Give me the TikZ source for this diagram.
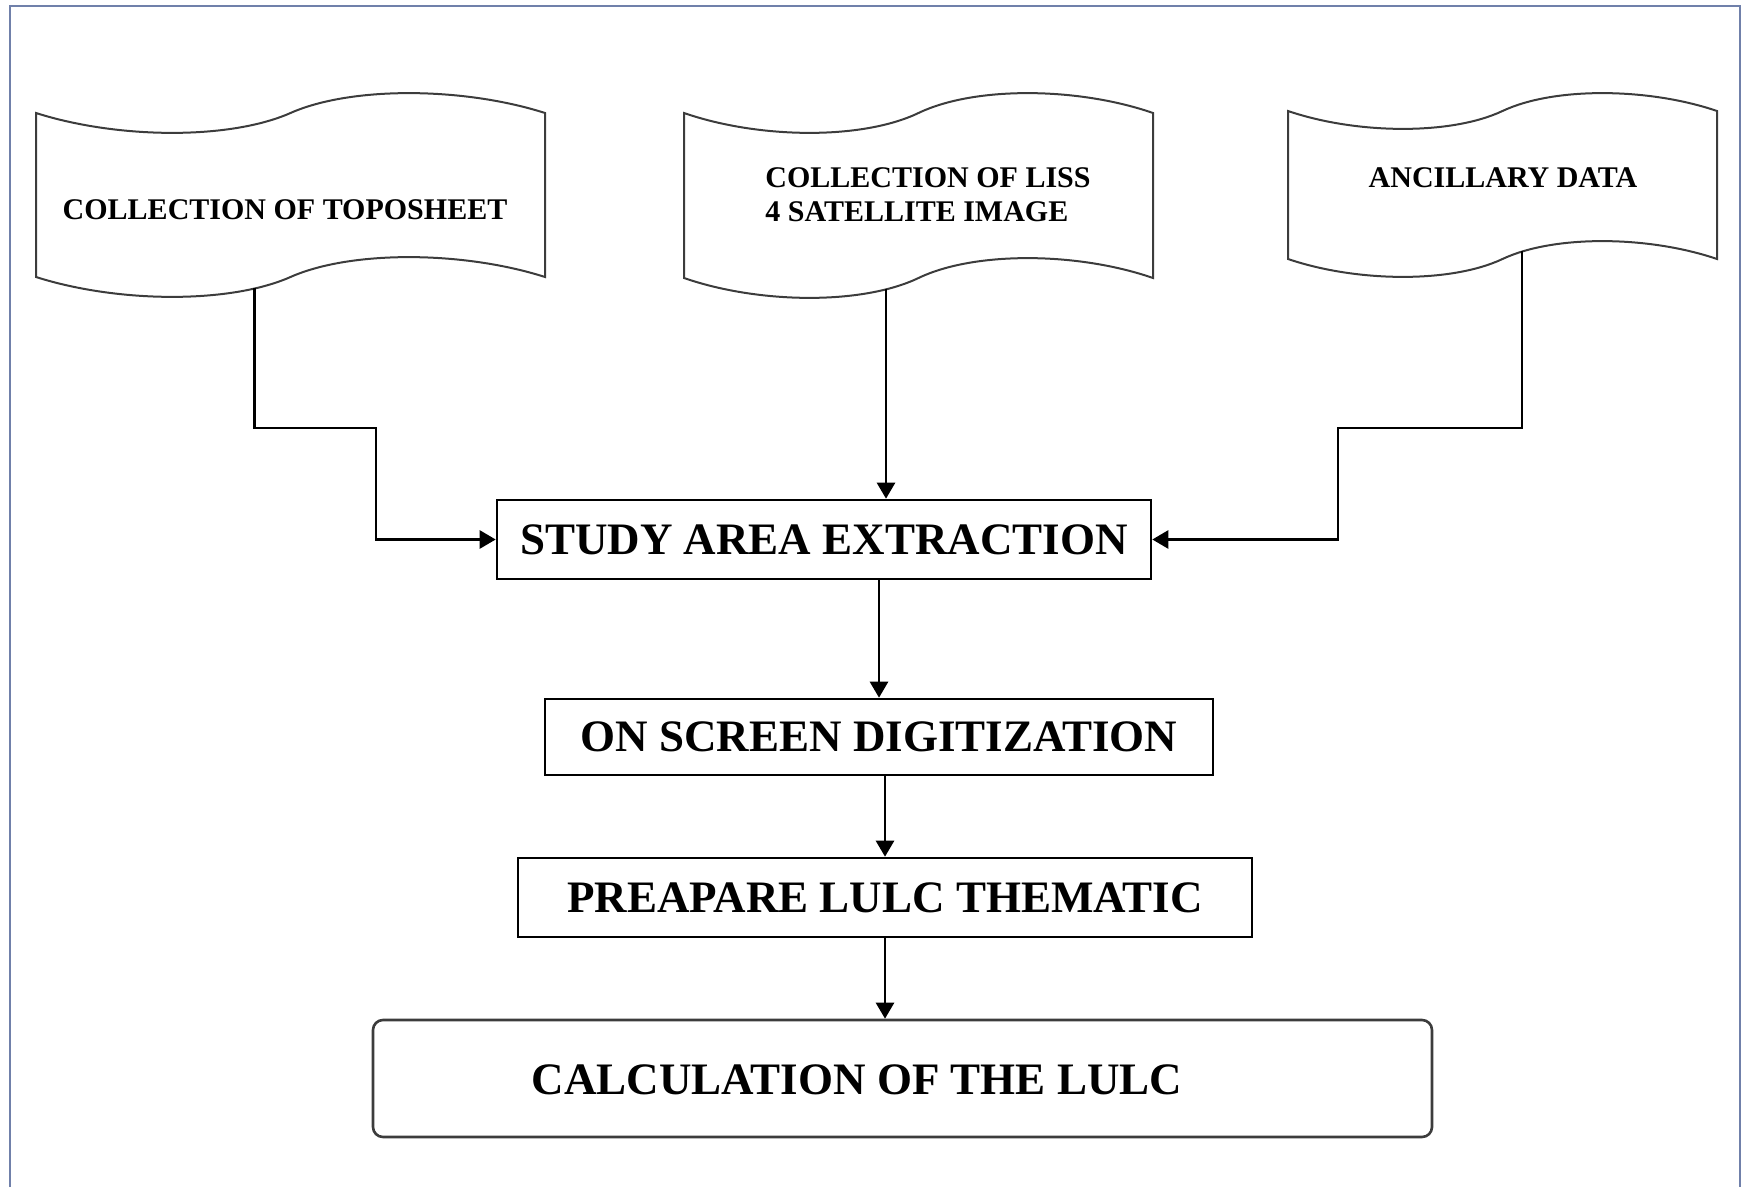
\documentclass[tikz,border=0pt]{standalone}
\usepackage{fontspec}
\setmainfont{Liberation Serif}
\usepackage[]{xcolor}
\usepackage{tikz}
\usetikzlibrary{arrows.meta}

\definecolor{framecol}{RGB}{112,128,170}
\definecolor{tapecol}{RGB}{60,60,60}

% wavy tape: x, y (top left corner), width, height, bend
\newcommand{\tapeshape}[5]{%
  \draw[tapeline] (#1,#2)
    .. controls ({#1+.16*#3},{#2+1.3*#5}) and ({#1+.38*#3},{#2+1.35*#5}) .. ({#1+.5*#3},#2)
    .. controls ({#1+.62*#3},{#2-1.35*#5}) and ({#1+.84*#3},{#2-1.3*#5}) .. ({#1+#3},#2)
    -- ({#1+#3},{#2+#4})
    .. controls ({#1+.84*#3},{#2+#4-1.3*#5}) and ({#1+.62*#3},{#2+#4-1.35*#5}) .. ({#1+.5*#3},{#2+#4})
    .. controls ({#1+.38*#3},{#2+#4+1.35*#5}) and ({#1+.16*#3},{#2+#4+1.3*#5}) .. (#1,{#2+#4})
    -- cycle;}

\begin{document}
\begin{tikzpicture}[x=0.5pt,y=-0.5pt,
    tapeline/.style={draw=tapecol,line width=1pt},
    smalltext/.style={font=\fontsize{15pt}{17pt}\selectfont\bfseries,align=left,inner sep=0pt},
    bigtext/.style={font=\fontsize{22.5pt}{27pt}\selectfont\bfseries},
    stepbox/.style={draw,line width=1.3pt,inner sep=0pt},
    calcbox/.style={draw=tapecol,line width=1.3pt,rounded corners=5pt},
    conn/.style={line width=1.3pt,-{Triangle[length=8pt,width=9pt]}}]
      \useasboundingbox (0,0) rectangle (1743,1187);
      \draw[framecol,line width=1pt] (10,1187) -- (10,6) -- (1740,6) -- (1740,1187);

      \tapeshape{36}{113}{509}{164}{20}
      \tapeshape{684}{113}{469}{165}{20}
      \tapeshape{1288}{111}{429}{148}{18}
      \node[smalltext] (topo) at (285,210) {COLLECTION OF TOPOSHEET};
      \node[smalltext] (liss) at (928,195) {COLLECTION OF LISS\\4 SATELLITE IMAGE};
      \node[smalltext] (anc)  at (1503,178) {ANCILLARY DATA};
      \coordinate (topoout) at (254.5,288.5);
      \coordinate (lissout) at (886,289.5);
      \coordinate (ancout)  at (1522,251.5);

      \node[stepbox,bigtext,minimum width=327pt,minimum height=39.5pt] (study) at (824,539.5) {STUDY AREA EXTRACTION};
      \node[stepbox,bigtext,minimum width=334pt,minimum height=38pt] (digit) at (879,737) {ON SCREEN DIGITIZATION};
      \node[stepbox,bigtext,minimum width=367pt,minimum height=39.5pt] (prep) at (885,897.5) {PREAPARE LULC THEMATIC};
      \node[calcbox,minimum width=529.5pt,minimum height=58.5pt] (calc) at (902.5,1078.5) {};
      \node[bigtext] (calctext) at (857,1080) {CALCULATION OF THE LULC};

      \draw[conn] (topoout) |- (376,428) |- (study.west);
      \draw[conn] (lissout) -- (lissout |- study.north);
      \draw[conn] (ancout) |- (1338,428) |- (study.east);
      \draw[conn] (study.south -| digit.north) -- (digit.north);
      \draw[conn] (digit.south -| prep.north) -- (prep.north);
      \draw[conn] (prep.south) -- (prep.south |- calc.north);
\end{tikzpicture}
\end{document}
